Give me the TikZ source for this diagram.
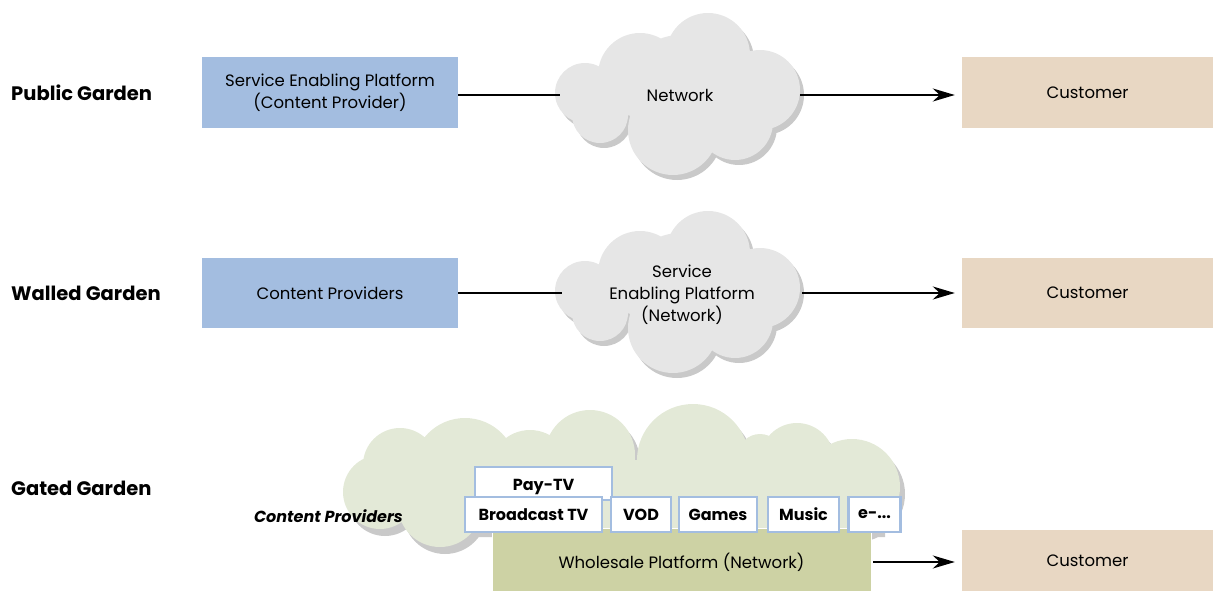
\documentclass[tikz,border=0pt]{standalone}
\usepackage{fontspec}
\setmainfont{Poppins}
\usetikzlibrary{arrows.meta}
\definecolor{blueb}{HTML}{A3BDE0}
\definecolor{cust}{HTML}{E8D7C3}
\definecolor{cloudg}{HTML}{E6E6E6}
\definecolor{shad}{HTML}{C9C9C9}
\definecolor{cloudgr}{HTML}{E3E9D7}
\definecolor{whole}{HTML}{CDD2A4}
\tikzset{
  smallcloud/.pic={
    \foreach \c/\s in {shad/{(4,5)}, cloudg/{(0,0)}}{
      \fill[\c, shift={\s}] (28,-42) circle[radius=42pt] (-40,-22) circle[radius=42pt]
        (-95,-4) circle[radius=30pt] (-80,18) circle[radius=28pt]
        (-7,33) circle[radius=45pt] (55,25) circle[radius=38pt]
        (80,-7) circle[radius=40pt] (0,-7) circle[radius=55pt];
    }
  },
  bigcloud/.pic={
    \foreach \c/\s in {shad/{(5,7)}, cloudgr/{(0,0)}}{
      \fill[\c, shift={\s}] (380,492) circle[radius=37pt] (400,465) circle[radius=37pt]
        (465,470) circle[radius=52pt] (440,505) circle[radius=42pt]
        (590,455) circle[radius=45pt] (693,460) circle[radius=56pt]
        (760,456) circle[radius=22pt] (797,460) circle[radius=37pt]
        (852,487) circle[radius=48pt] (530,470) circle[radius=40pt]
        (420,460) rectangle (880,530);
    }
  },
  lbl/.style={font=\fontsize{19.5}{22}\selectfont\bfseries, anchor=west, inner sep=0pt},
  txt/.style={font=\fontsize{16.5}{22}\selectfont, align=center},
  bluebox/.style={txt, fill=blueb, minimum width=256pt, inner sep=0pt},
  custbox/.style={txt, fill=cust, minimum width=251pt, inner sep=0pt},
  cloudtxt/.style={txt, minimum width=240pt, inner sep=0pt},
  conn/.style={line width=2.2pt},
  arr/.style={line width=2.2pt, -{Stealth[length=22pt,width=13pt,inset=7pt]}, shorten >=7pt},
  svc/.style={draw=blueb, line width=2.2pt, fill=white, minimum height=35pt, inner sep=0pt,
    font=\fontsize{16}{19}\selectfont\bfseries},
}
\begin{document}
\begin{tikzpicture}[x=1pt, y=-1pt]
\useasboundingbox (0,0) rectangle (1213,591);
% clouds
\pic at (680,97) {smallcloud};
\pic at (680,295) {smallcloud};
\pic at (0,0) {bigcloud};
% row 1
\node[lbl] (pg) at (11,93) {Public Garden};
\node[bluebox, minimum height=71pt] (sep) at (330,92.5) {Service Enabling Platform\\(Content Provider)};
\node[cloudtxt] (net1) at (680,95) {Network};
\node[custbox, minimum height=71pt] (c1) at (1087.5,92.5) {Customer};
\draw[conn] (sep.east |- net1.west) -- (net1.west);
\draw[arr] (net1.east) -- (net1.east -| c1.west);
% row 2
\node[lbl] (wg) at (11,293) {Walled Garden};
\node[bluebox, minimum height=70pt] (cpr) at (330,293) {Content Providers};
\node[cloudtxt] (net2) at (682,295) {Service\\Enabling Platform\\(Network)};
\node[custbox, minimum height=70pt] (c2) at (1087.5,293) {Customer};
\draw[conn] (cpr.east) -- (cpr.east -| net2.west);
\draw[arr] (net2.east |- c2.west) -- (c2.west);
% row 3
\node[lbl] (gg) at (11,488) {Gated Garden};
\node[font=\fontsize{16}{19}\selectfont\bfseries\itshape, anchor=east, inner sep=0pt] (cp) at (403,516) {Content Providers};
\node[txt, fill=whole, draw=white, line width=1pt, minimum width=379pt, minimum height=63pt, inner sep=0pt, text height=17pt, text depth=0pt] (ws) at (681.5,559.5) {Wholesale Platform (Network)};
\node[custbox, minimum height=61pt] (c3) at (1087.5,560.5) {Customer};
\coordinate (a3) at (873,562);
\draw[arr] (a3) -- (a3 -| c3.west);
\node[svc, minimum width=137pt, minimum height=33pt, text height=14.5pt, text depth=0pt] (ptv) at (543.5,483.5) {Pay-TV};
\node[svc, minimum width=137pt] (btv) at (533.5,514.5) {Broadcast TV};
\node[svc, minimum width=60pt] (vod) at (641,514.5) {VOD};
\node[svc, minimum width=78pt] (gam) at (718,514.5) {Games};
\node[svc, minimum width=71pt] (mus) at (803.5,514.5) {Music};
\node[svc, minimum width=52pt] (emore) at (874.5,514.5) {e-...};
\end{tikzpicture}
\end{document}
